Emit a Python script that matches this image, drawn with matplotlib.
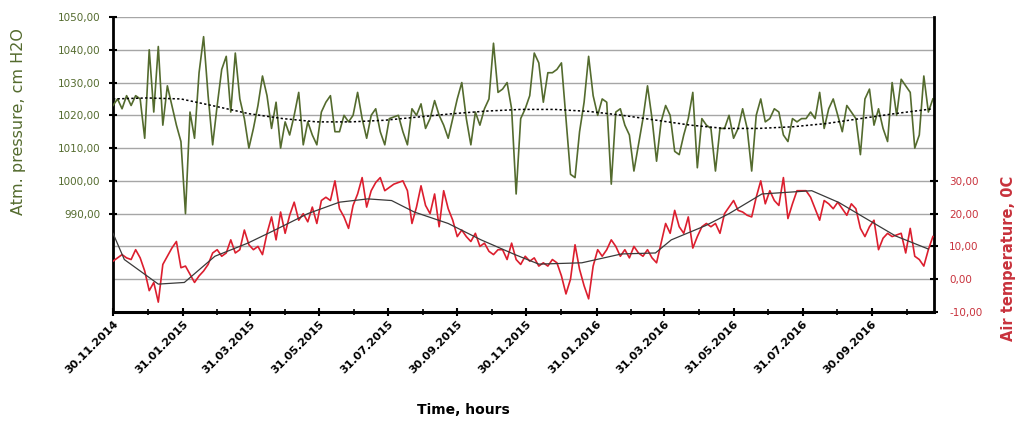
import matplotlib
matplotlib.use("Agg")
import matplotlib.pyplot as plt
import pandas as pd

# Atmospheric pressure, cm H2O, sampled every 4 days from 30.11.2014
pressure = [
    1023, 1025, 1022, 1026, 1023, 1026, 1025, 1013, 1040, 1021, 1041, 1017, 1029, 1023, 1017,
    1012, 990, 1021, 1013, 1033, 1044, 1026, 1011, 1023, 1034, 1038, 1021, 1039, 1025, 1019,
    1010, 1016, 1023, 1032, 1026, 1016, 1024, 1010, 1018, 1014, 1020, 1027, 1011, 1018, 1014,
    1011, 1021, 1024, 1026, 1015, 1015, 1020, 1018, 1020, 1027, 1019, 1013, 1020, 1022, 1015,
    1011, 1019, 1019.5, 1020, 1015, 1011, 1022, 1020, 1023.5, 1016, 1019, 1024.5, 1020, 1017, 1013,
    1019, 1025, 1030, 1019, 1011, 1021, 1017, 1022, 1025, 1042, 1027, 1028, 1030, 1022, 996, 1019,
    1022, 1026, 1039, 1036, 1024, 1033, 1033, 1034, 1036, 1019, 1002, 1001, 1015, 1024, 1038,
    1026, 1020, 1025, 1024, 999, 1021, 1022, 1017, 1014, 1003, 1011, 1019, 1029, 1019, 1006,
    1018, 1023, 1020, 1009, 1008, 1014, 1019, 1027, 1004, 1019, 1017, 1016, 1003, 1016, 1016,
    1020, 1013, 1016, 1022, 1016, 1003, 1020, 1025, 1018, 1019, 1022, 1021, 1014, 1012, 1019,
    1018, 1019, 1019, 1021, 1019, 1027, 1016, 1022, 1025, 1020, 1015, 1023, 1021, 1019, 1008,
    1025, 1028, 1017, 1022, 1016, 1012, 1030, 1020, 1031, 1029, 1027, 1010, 1014, 1032, 1021, 1025,
]

# Air temperature, degrees C, same sampling
temperature = [
    5.5, 6.5, 7.5, 6.5, 6, 9, 6.5, 2.5, -3.5, -1, -7, 4.5, 7, 9.5, 11.5,
    3.5, 4, 1.5, -1, 1, 2.5, 4.5, 8, 9, 7, 8, 12, 8, 9, 15,
    10.5, 9, 10, 7.5, 14, 19, 12, 20.5, 14, 19.5, 23.5, 18, 20, 17.5, 22,
    17, 24, 25, 24, 30, 21.5, 19, 15.5, 22.5, 26, 31, 22, 27, 29.5, 31,
    27, 28, 29, 29.5, 30, 27, 17, 22, 28.5, 22.5, 20, 26, 16, 27, 21.5,
    18, 13, 15, 13, 11.5, 14, 10, 11, 8.5, 7.5, 9, 9, 6, 11, 6, 4.5,
    7, 5.5, 6.5, 4, 5, 4, 6, 5, 1, -4.5, 0, 10.5, 3, -2, -6,
    4, 9, 7, 9, 12, 10, 7, 9, 6.5, 10, 8, 7, 9, 6.5, 5,
    11, 17, 14, 21, 16, 14, 19, 9.5, 13, 16, 17, 16, 17, 14, 20,
    22, 24, 21, 20.5, 19.5, 19, 25, 30, 23, 27, 24, 22.5, 31, 18.5, 23,
    27, 27, 27, 25, 21.5, 18, 24, 23, 21.5, 23.5, 21.5, 19.5, 23, 21.5, 15.5,
    13, 16, 18, 9, 12.5, 14, 13, 13.5, 14, 8, 15.5, 7, 6, 4, 9, 13,
]

# Smoothed pressure trend (dotted)
pressure_trend_dates = [
    "2014-11-30", "2014-12-30", "2015-01-29", "2015-02-28", "2015-03-30", "2015-04-29",
    "2015-05-29", "2015-06-28", "2015-07-28", "2015-08-27", "2015-09-26", "2015-10-26",
    "2015-11-25", "2015-12-25", "2016-01-24", "2016-02-23", "2016-03-24", "2016-04-23",
    "2016-05-23", "2016-06-22", "2016-07-22", "2016-08-21", "2016-09-20", "2016-10-20",
    "2016-11-23",
]
pressure_trend = [
    1025, 1025.3, 1025, 1022.8, 1020.5, 1019, 1018, 1018, 1018.5, 1019.5, 1020.5, 1021.3,
    1021.8, 1021.8, 1021.2, 1020, 1018.5, 1017, 1016, 1016, 1016.5, 1017.5, 1019, 1020.5,
    1022,
]

# Smoothed temperature trend
temp_trend_dates = [
    "2014-11-30", "2014-12-10", "2015-01-09", "2015-02-01", "2015-02-28", "2015-03-29",
    "2015-04-22", "2015-05-21", "2015-06-18", "2015-07-13", "2015-08-03", "2015-08-23",
    "2015-09-22", "2015-10-21", "2015-11-20", "2015-12-11", "2016-01-18", "2016-02-22",
    "2016-03-23", "2016-04-06", "2016-05-06", "2016-05-27", "2016-06-25", "2016-08-08",
    "2016-09-01", "2016-09-21", "2016-10-21", "2016-11-19",
]
temp_trend = [
    14, 6, -1.5, -1, 7, 11, 15, 20, 23.5, 24.5, 24, 20.5, 17, 12, 7.5, 4.6, 5, 7.7,
    8, 12, 16.3, 20, 26, 27, 23.4, 19.3, 13.2, 9.2,
]

tick_dates = [
    "2014-11-30", "2015-01-31", "2015-03-31", "2015-05-31", "2015-07-31", "2015-09-30",
    "2015-11-30", "2016-01-31", "2016-03-31", "2016-05-31", "2016-07-31", "2016-09-30",
]
tick_labels = [
    "30.11.2014", "31.01.2015", "31.03.2015", "31.05.2015", "31.07.2015", "30.09.2015",
    "30.11.2015", "31.01.2016", "31.03.2016", "31.05.2016", "31.07.2016", "30.09.2016",
]
pressure_ticks = [990, 1000, 1010, 1020, 1030, 1040, 1050]
temp_ticks = [-10, 0, 10, 20, 30]

OLIVE = "#546B2E"
RED = "#DC1E2E"
RED_TXT = "#C8323C"

dates = pd.date_range("2014-11-30", periods=len(pressure), freq="4D")
t_dates = pd.date_range("2014-11-30", periods=len(temperature), freq="4D")

fig = plt.figure(figsize=(10.18, 4.21), dpi=100)
ax = fig.add_axes([0.111, 0.259, 0.8065, 0.7006])
ax2 = ax.twinx()

# horizontal grid across the whole plot
for v in range(970, 1051, 10):
    ax.axhline(v, color="#A6A6A6", lw=1.0, zorder=0)

ax.plot(dates, pressure, color=OLIVE, lw=1.2, zorder=3)
ax.plot(pd.to_datetime(pressure_trend_dates), pressure_trend, color="black",
        lw=1.1, ls=(0, (1.5, 1.5)), zorder=4)

ax2.plot(t_dates, temperature, color=RED, lw=1.2, zorder=3)
ax2.plot(pd.to_datetime(temp_trend_dates), temp_trend, color="#3A3A3A", lw=0.9, zorder=4)

ax.set_xlim(pd.Timestamp("2014-11-30"), pd.Timestamp("2016-11-24"))
ax.set_ylim(960, 1050)
ax2.set_ylim(-10, 80)

ax.set_yticks(pressure_ticks)
ax.set_yticklabels([f"{v:.2f}".replace(".", ",") for v in pressure_ticks],
                   color=OLIVE, fontsize=7.5)
ax2.set_yticks(temp_ticks)
ax2.set_yticklabels([f"{v:.2f}".replace(".", ",") for v in temp_ticks],
                    color=RED_TXT, fontsize=7.5)

major = pd.to_datetime(tick_dates)
ax.set_xticks(major)
ax.set_xticklabels(tick_labels, rotation=45, ha="right", va="top",
                   rotation_mode="anchor", fontsize=8, fontweight="bold")
minor = [major[i] + (major[i + 1] - major[i]) / 2 for i in range(len(major) - 1)]
minor.append(major[-1] + pd.Timedelta(days=31))
ax.set_xticks(minor, minor=True)

ax.tick_params(axis="x", which="major", direction="inout", length=6, width=1.5, pad=2)
ax.tick_params(axis="x", which="minor", direction="inout", length=4, width=1.2)
ax.tick_params(axis="y", direction="inout", length=6, width=1.5, pad=6)
ax2.tick_params(axis="y", direction="inout", length=6, width=1.5, pad=8)

for a in (ax, ax2):
    a.spines["top"].set_visible(False)
ax.spines["left"].set_linewidth(2.0)
ax.spines["bottom"].set_linewidth(2.2)
ax2.spines["right"].set_linewidth(2.0)
ax2.spines["left"].set_visible(False)
ax2.spines["bottom"].set_visible(False)

fig.text(0.018, 1 - 122 / 421, "Atm. pressure, cm H2O", rotation=90, color=OLIVE,
         fontsize=11.5, ha="center", va="center")
fig.text(0.991, 1 - 258 / 421, "Air temperature, 0C", rotation=90, color=RED_TXT,
         fontsize=10.5, fontweight="bold", ha="center", va="center")
fig.text(463 / 1018, 1 - 410 / 421, "Time, hours", fontsize=10, fontweight="bold",
         ha="center", va="center")

fig.savefig("out.png", dpi=100)
